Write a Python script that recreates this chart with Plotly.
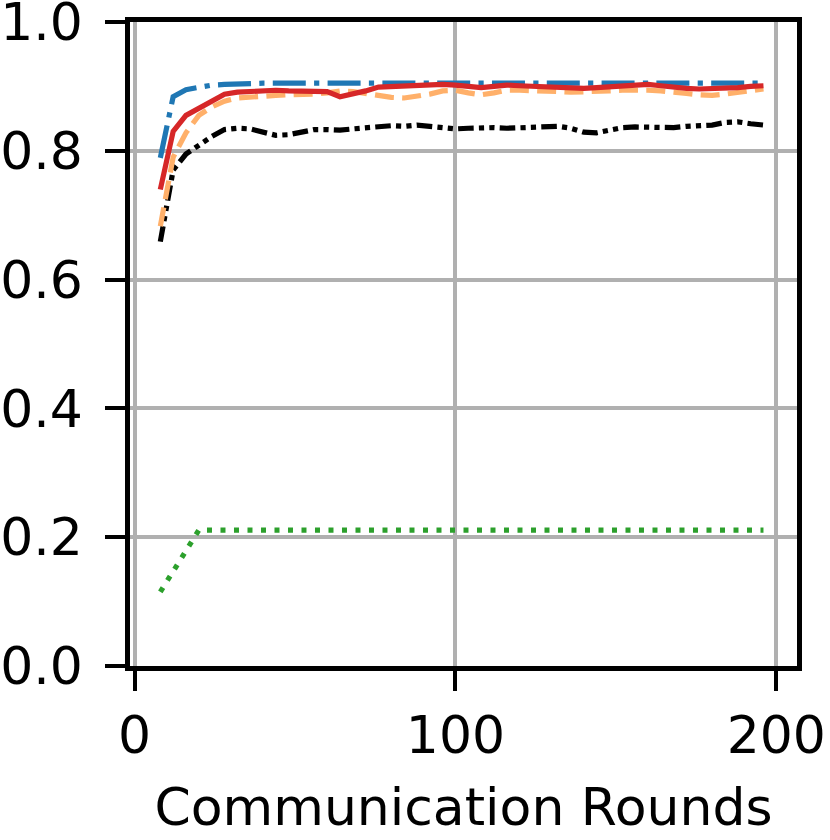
import plotly.graph_objects as go

rounds = list(range(8, 197, 4))

blue_vals = [0.789, 0.884, 0.895, 0.899, 0.902, 0.903, 0.904, 0.905, 0.905, 0.905,
             0.905, 0.905, 0.906, 0.906, 0.906, 0.906, 0.906, 0.906, 0.906, 0.906,
             0.906, 0.906, 0.906, 0.906, 0.906, 0.906, 0.906, 0.906, 0.906, 0.906,
             0.906, 0.906, 0.906, 0.906, 0.906, 0.906, 0.906, 0.906, 0.906, 0.906,
             0.906, 0.906, 0.906, 0.906, 0.906, 0.905, 0.905, 0.905]

orange_vals = [0.683, 0.790, 0.828, 0.855, 0.868, 0.877, 0.882, 0.884, 0.885, 0.886,
               0.887, 0.887, 0.888, 0.890, 0.893, 0.892, 0.889, 0.885, 0.883, 0.882,
               0.884, 0.888, 0.893, 0.894, 0.890, 0.887, 0.890, 0.894, 0.894, 0.894,
               0.893, 0.892, 0.891, 0.891, 0.892, 0.893, 0.894, 0.895, 0.894, 0.893,
               0.892, 0.889, 0.887, 0.886, 0.888, 0.890, 0.893, 0.896]

red_vals = [0.740, 0.830, 0.855, 0.866, 0.879, 0.888, 0.891, 0.892, 0.892, 0.894,
            0.893, 0.893, 0.894, 0.892, 0.884, 0.888, 0.893, 0.899, 0.900, 0.900,
            0.900, 0.901, 0.903, 0.902, 0.900, 0.898, 0.900, 0.902, 0.901, 0.900,
            0.899, 0.898, 0.897, 0.897, 0.898, 0.899, 0.902, 0.903, 0.903, 0.901,
            0.898, 0.897, 0.896, 0.896, 0.897, 0.898, 0.900, 0.901]

green_vals = [0.115, 0.147, 0.179, 0.211] + [0.211] * 44

black_vals = [0.659, 0.770, 0.795, 0.809, 0.822, 0.833, 0.835, 0.834, 0.828, 0.824,
              0.825, 0.828, 0.833, 0.833, 0.832, 0.834, 0.836, 0.838, 0.839, 0.838,
              0.840, 0.838, 0.836, 0.834, 0.835, 0.836, 0.836, 0.835, 0.836, 0.836,
              0.837, 0.838, 0.835, 0.829, 0.828, 0.832, 0.836, 0.837, 0.836, 0.836,
              0.836, 0.838, 0.839, 0.840, 0.844, 0.845, 0.842, 0.840]

x_ticks = [0, 100, 200]
y_ticks = [0.0, 0.2, 0.4, 0.6, 0.8, 1.0]

LW = 5.2
series = [
    (green_vals, "#2ca02c", "5px,8.5px"),
    (black_vals, "#000000", "15.6px,5.2px,5.2px,5.2px,5.2px,5.2px"),
    (orange_vals, "#ffb06a", "19px,8.3px"),
    (blue_vals, "#1f77b4", "33px,8.3px,5.2px,8.3px"),
    (red_vals, "#d62728", "solid"),
]

fig = go.Figure()
for vals, color, dash in series:
    fig.add_trace(go.Scatter(x=rounds, y=vals, mode="lines",
                             line=dict(color=color, width=LW, dash=dash),
                             showlegend=False, hoverinfo="skip"))

font = dict(family="DejaVu Sans", size=52, color="black")
common = dict(showline=True, linecolor="black", linewidth=4.5, mirror=True,
              ticks="outside", ticklen=20, tickwidth=4.2, tickcolor="black",
              showgrid=True, gridcolor="#b0b0b0", gridwidth=4, zeroline=False,
              automargin=False, ticklabeloverflow="allow", tickfont=font)
fig.update_layout(
    width=830, height=840,
    margin=dict(l=130, r=33, t=22, b=174, autoexpand=False),
    plot_bgcolor="white", paper_bgcolor="white",
    font=font,
)
fig.update_xaxes(range=[-1.45, 206.45], tickvals=x_ticks,
                 title=dict(text="Communication Rounds", font=font, standoff=26),
                 ticklabelstandoff=0, **common)
fig.update_yaxes(range=[0, 1], tickvals=y_ticks, tickformat=".1f",
                 ticklabelstandoff=12, **common)

fig.write_html("out.html", config={"displayModeBar": False},
               post_script="document.body.style.margin='0';document.body.style.overflow='hidden';")
